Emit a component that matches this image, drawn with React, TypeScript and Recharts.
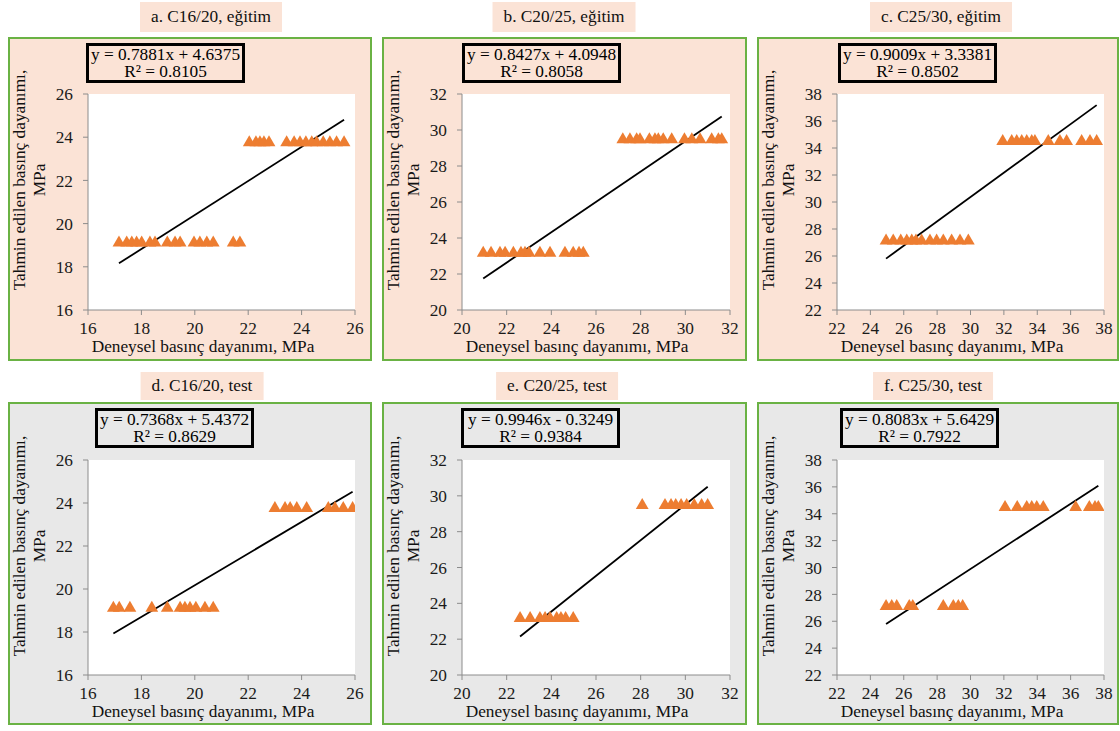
import React from 'react';
import { ScatterChart, Scatter, XAxis, YAxis, CartesianGrid, ReferenceLine } from 'recharts';

const FONT = '"Liberation Serif", "Times New Roman", serif';
const FS = 17.3;
const PEACH = '#FBE3D6';
const GRAY = '#E8E8E8';
const GREEN = '#6AB244';
const ORANGE = '#ED7D31';
const AXIS = '#8C8C8C';

// Panel titles
const titles = ['a. C16/20, eğitim', 'b. C20/25, eğitim', 'c. C25/30, eğitim', 'd. C16/20, test', 'e. C20/25, test', 'f. C25/30, test'];
const equations = ['y = 0.7881x + 4.6375', 'y = 0.8427x + 4.0948', 'y = 0.9009x + 3.3381', 'y = 0.7368x + 5.4372', 'y = 0.9946x - 0.3249', 'y = 0.8083x + 5.6429'];
const r2Labels = ['R² = 0.8105', 'R² = 0.8058', 'R² = 0.8502', 'R² = 0.8629', 'R² = 0.9384', 'R² = 0.7922'];
const slopes = [0.7881, 0.8427, 0.9009, 0.7368, 0.9946, 0.8083];
const intercepts = [4.6375, 4.0948, 3.3381, 5.4372, -0.3249, 5.6429];

// Axis ticks
const ticksC16 = [16, 18, 20, 22, 24, 26];
const ticksC20 = [20, 22, 24, 26, 28, 30, 32];
const ticksC25 = [22, 24, 26, 28, 30, 32, 34, 36, 38];

// Predicted strength levels (low class, high class)
const levelsC16 = [19.18, 23.82];
const levelsC20 = [23.25, 29.55];
const levelsC25 = [27.23, 34.6];

// Experimental values for each predicted level
const aLow = [17.16, 17.45, 17.64, 17.82, 18.01, 18.32, 18.51, 18.97, 19.26, 19.45, 19.97, 20.19, 20.45, 20.69, 21.44, 21.69];
const aHigh = [22.04, 22.29, 22.44, 22.59, 22.78, 23.44, 23.72, 23.94, 24.16, 24.38, 24.56, 24.81, 25.06, 25.31, 25.59];
const bLow = [20.95, 21.3, 21.7, 21.93, 22.3, 22.64, 22.82, 23.0, 23.49, 23.94, 24.61, 24.98, 25.24, 25.43];
const bHigh = [27.2, 27.52, 27.82, 27.97, 28.39, 28.64, 28.79, 29.01, 29.39, 29.96, 30.29, 30.66, 31.18, 31.48, 31.63];
const cLow = [24.94, 25.37, 25.82, 26.18, 26.48, 26.73, 27.07, 27.57, 27.97, 28.37, 28.87, 29.37, 29.87];
const cHigh = [31.93, 32.47, 32.77, 33.07, 33.37, 33.67, 33.86, 34.66, 35.36, 35.76, 36.66, 37.16, 37.56];
const dLow = [16.95, 17.17, 17.57, 18.39, 18.97, 19.45, 19.63, 19.82, 20.04, 20.38, 20.69];
const dHigh = [23.0, 23.38, 23.57, 23.82, 24.19, 25.0, 25.25, 25.56, 25.91];
const eLow = [22.6, 23.05, 23.49, 23.72, 23.94, 24.24, 24.43, 24.64, 24.98];
const eHigh = [28.07, 29.09, 29.36, 29.57, 29.81, 30.06, 30.4, 30.73, 31.0];
const fLow = [24.94, 25.28, 25.58, 26.33, 26.54, 28.37, 28.97, 29.27, 29.53];
const fHigh = [32.07, 32.8, 33.37, 33.67, 33.97, 34.36, 36.3, 37.12, 37.46, 37.66];

type PanelCfg = {
  left: number; top: number; width: number; height: number; bg: string;
  title: number; titleCx: number; titleTop: number; titleH: number;
  eqLeft: number; low: number[]; high: number[]; levels: number[]; ticks: number[];
  plotTop: number; plotH: number; plotW: number;
};

const panels: PanelCfg[] = [
  { left: 8, top: 37, width: 364, height: 324, bg: PEACH, title: 0, titleCx: 211, titleTop: 2, titleH: 30, eqLeft: 78, low: aLow, high: aHigh, levels: levelsC16, ticks: ticksC16, plotTop: 57, plotH: 216, plotW: 267 },
  { left: 382, top: 37, width: 365, height: 324, bg: PEACH, title: 1, titleCx: 564, titleTop: 2, titleH: 30, eqLeft: 80, low: bLow, high: bHigh, levels: levelsC20, ticks: ticksC20, plotTop: 57, plotH: 216, plotW: 268 },
  { left: 757, top: 37, width: 362, height: 324, bg: PEACH, title: 2, titleCx: 941, titleTop: 2, titleH: 30, eqLeft: 81, low: cLow, high: cHigh, levels: levelsC25, ticks: ticksC25, plotTop: 57, plotH: 216, plotW: 267 },
  { left: 8, top: 402, width: 364, height: 323, bg: GRAY, title: 3, titleCx: 202, titleTop: 372, titleH: 28, eqLeft: 87, low: dLow, high: dHigh, levels: levelsC16, ticks: ticksC16, plotTop: 58, plotH: 215, plotW: 267 },
  { left: 382, top: 402, width: 365, height: 323, bg: GRAY, title: 4, titleCx: 557, titleTop: 372, titleH: 28, eqLeft: 79, low: eLow, high: eHigh, levels: levelsC20, ticks: ticksC20, plotTop: 58, plotH: 215, plotW: 268 },
  { left: 757, top: 402, width: 362, height: 323, bg: GRAY, title: 5, titleCx: 933, titleTop: 372, titleH: 28, eqLeft: 83, low: fLow, high: fHigh, levels: levelsC25, ticks: ticksC25, plotTop: 58, plotH: 215, plotW: 267 },
];

const Triangle = (props: any) => {
  const { cx, cy } = props;
  if (cx == null || cy == null) return <g />;
  return <polygon points={`${cx},${cy - 5.8} ${cx - 6.4},${cy + 5.2} ${cx + 6.4},${cy + 5.2}`} fill={ORANGE} />;
};

const tickStyle = { fontFamily: FONT, fontSize: FS, fill: '#1a1a1a' };

function Panel({ cfg }: { cfg: PanelCfg }) {
  const i = cfg.title;
  const pts = [
    ...cfg.low.map((x) => ({ x, y: cfg.levels[0] })),
    ...cfg.high.map((x) => ({ x, y: cfg.levels[1] })),
  ];
  const xs = pts.map((p) => p.x);
  const x1 = Math.min(...xs);
  const x2 = Math.max(...xs);
  const seg = [
    { x: x1, y: slopes[i] * x1 + intercepts[i] },
    { x: x2, y: slopes[i] * x2 + intercepts[i] },
  ];
  const domain: [number, number] = [cfg.ticks[0], cfg.ticks[cfg.ticks.length - 1]];
  const plotLeft = 80;
  const rightM = cfg.width - plotLeft - cfg.plotW;
  const bottomH = cfg.height - cfg.plotTop - cfg.plotH;
  return (
    <>
      <div style={{ position: 'absolute', left: cfg.titleCx, top: cfg.titleTop, height: cfg.titleH, lineHeight: `${cfg.titleH}px`, transform: 'translateX(-50%)', background: PEACH, padding: '0 11px', fontFamily: FONT, fontSize: FS, color: '#111', whiteSpace: 'nowrap' }}>
        {titles[i]}
      </div>
      <div style={{ position: 'absolute', left: cfg.left, top: cfg.top, width: cfg.width, height: cfg.height, background: cfg.bg }}>
        <ScatterChart width={cfg.width} height={cfg.height} margin={{ top: cfg.plotTop, right: rightM, bottom: 0, left: 20 }}>
          <CartesianGrid fill="#ffffff" stroke="none" horizontal={false} vertical={false} />
          <XAxis type="number" dataKey="x" domain={domain} ticks={cfg.ticks} allowDataOverflow height={bottomH}
            stroke={AXIS} tickSize={5} tickMargin={7} tick={tickStyle} interval={0} />
          <YAxis type="number" dataKey="y" domain={domain} ticks={cfg.ticks} allowDataOverflow width={60}
            stroke={AXIS} tickSize={5} tickMargin={10} tick={tickStyle} interval={0} />
          <Scatter data={pts} shape={Triangle} isAnimationActive={false} />
          <ReferenceLine segment={seg} stroke="#000" strokeWidth={1.8} ifOverflow="visible" />
        </ScatterChart>
        <div style={{ position: 'absolute', left: cfg.eqLeft, top: 6, width: 159, height: 40, boxSizing: 'border-box', border: '3px solid #000', background: cfg.bg, fontFamily: FONT, fontSize: FS, color: '#000', textAlign: 'center', lineHeight: '17px', paddingTop: 0, whiteSpace: 'nowrap' }}>
          <div>{equations[i]}</div>
          <div>{r2Labels[i]}</div>
        </div>
        <div style={{ position: 'absolute', left: 24 - 130, top: cfg.plotTop + cfg.plotH / 2 - 22 - 22, width: 260, height: 44, transform: 'rotate(-90deg)', fontFamily: FONT, fontSize: FS, color: '#111', textAlign: 'center', lineHeight: '20px', whiteSpace: 'nowrap' }}>
          <div>Tahmin edilen basınç dayanımı,</div>
          <div>MPa</div>
        </div>
        <div style={{ position: 'absolute', left: 195 - 130, top: cfg.plotTop + cfg.plotH + 29, width: 260, height: 16, fontFamily: FONT, fontSize: FS, color: '#111', textAlign: 'center', lineHeight: '16px', whiteSpace: 'nowrap' }}>
          Deneysel basınç dayanımı, MPa
        </div>
        <div style={{ position: 'absolute', left: 0, top: 0, width: cfg.width, height: cfg.height, boxSizing: 'border-box', border: `2px solid ${GREEN}`, pointerEvents: 'none' }} />
      </div>
    </>
  );
}

export default function App() {
  return (
    <div style={{ position: 'absolute', left: 0, top: 0, width: 1120, height: 731, background: '#fff', overflow: 'hidden' }}>
      {panels.map((p, k) => (
        <Panel key={k} cfg={p} />
      ))}
    </div>
  );
}
